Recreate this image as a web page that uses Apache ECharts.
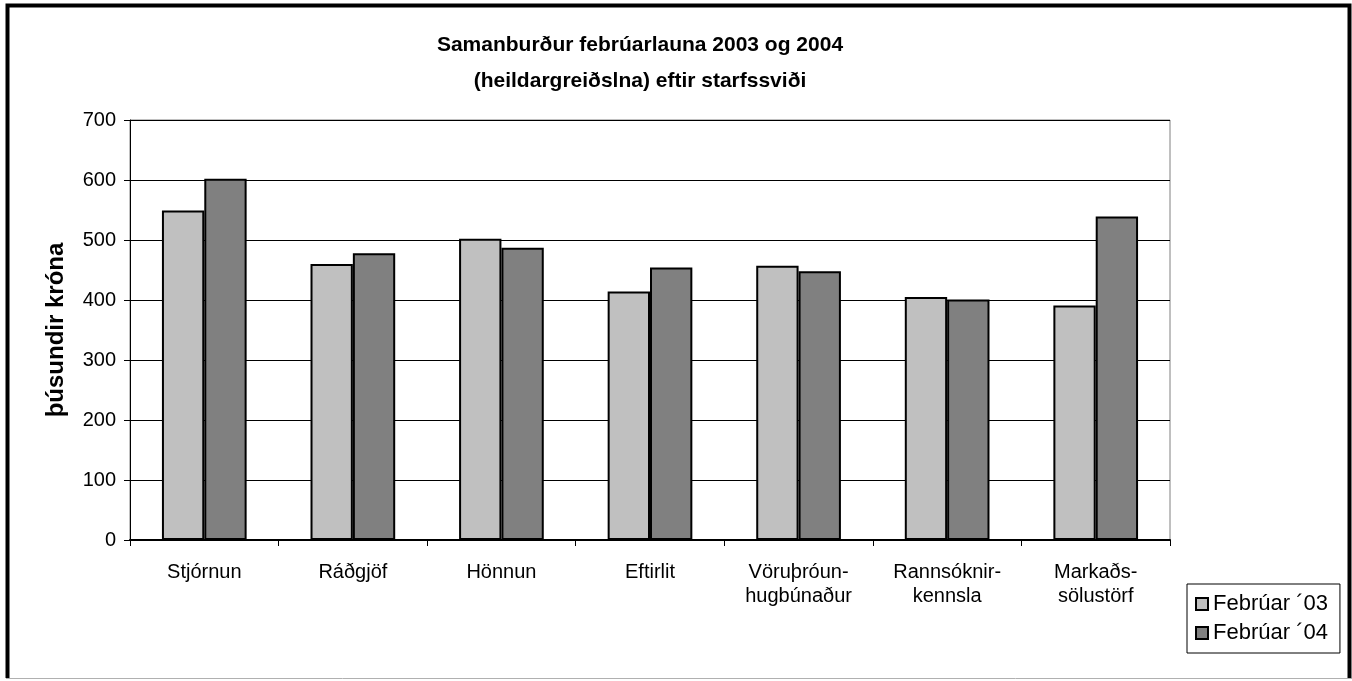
<!DOCTYPE html>
<html>
<head>
<meta charset="utf-8">
<script src="https://cdn.jsdelivr.net/npm/echarts@6/dist/echarts.min.js"></script>
<style>
  html, body { margin: 0; padding: 0; background: #fff; }
  #chart { width: 1352px; height: 681px; }
</style>
</head>
<body>
<div id="chart"></div>
<script>
    // starfssvið
    var categories = ['Stjórnun', 'Ráðgjöf', 'Hönnun', 'Eftirlit', 'Vöruþróun-\nhugbúnaður', 'Rannsóknir-\nkennsla', 'Markaðs-\nsölustörf']
    var feb03 = [549, 460, 502, 414, 457, 405, 391]   // Febrúar ´03
    var feb04 = [602, 478, 487, 454, 448, 401, 539]   // Febrúar ´04
    var yTicks = [0, 100, 200, 300, 400, 500, 600, 700]

    var font = 'Liberation Sans, Arial, sans-serif'

    var option = {
        animation: false,
        backgroundColor: '#fff',
        textStyle: { fontFamily: font },
        title: {
            text: 'Samanburður febrúarlauna 2003 og 2004\n(heildargreiðslna) eftir starfssviði',
            left: 640,
            top: 27,
            padding: 0,
            textAlign: 'center',
            textStyle: { fontFamily: font, fontSize: 21, fontWeight: 'bold', color: '#000', lineHeight: 36 }
        },
        legend: {
            orient: 'vertical',
            left: 1187,
            top: 584,
            padding: [9, 12, 9, 8],
            itemGap: 7,
            itemWidth: 12,
            itemHeight: 12,
            icon: 'rect',
            borderColor: '#000',
            borderWidth: 1,
            textStyle: { fontFamily: font, fontSize: 22, color: '#000', lineHeight: 21 },
            data: ['Febrúar ´03', 'Febrúar ´04']
        },
        grid: { left: 130, right: 182, top: 120, bottom: 141, show: true, borderColor: '#808080', borderWidth: 1 },
        xAxis: {
            type: 'category',
            data: categories,
            axisLine: { lineStyle: { color: '#000', width: 2 } },
            axisTick: { show: true, length: 6, lineStyle: { color: '#000' } },
            axisLabel: { color: '#000', fontSize: 20, margin: 20, lineHeight: 24, interval: 0 }
        },
        yAxis: {
            type: 'value',
            min: yTicks[0],
            max: yTicks[yTicks.length - 1],
            interval: 100,
            name: 'þúsundir króna',
            nameLocation: 'middle',
            nameGap: 62,
            nameTextStyle: { fontFamily: font, fontSize: 24, fontWeight: 'bold', color: '#000' },
            axisLine: { show: true, lineStyle: { color: '#000', width: 1 } },
            axisTick: { show: true, length: 6, lineStyle: { color: '#000' } },
            axisLabel: { color: '#000', fontSize: 20, margin: 14 },
            splitLine: { lineStyle: { color: '#000', width: 1 } }
        },
        series: [{
            name: 'Febrúar ´03',
            type: 'bar',
            data: feb03,
            barGap: '0%',
            barCategoryGap: '43%',
            itemStyle: { color: '#c0c0c0', borderColor: '#000', borderWidth: 2 }
        }, {
            name: 'Febrúar ´04',
            type: 'bar',
            data: feb04,
            itemStyle: { color: '#808080', borderColor: '#000', borderWidth: 2 }
        }],
        graphic: [
            // ytri rammi
            { type: 'polyline', silent: true, shape: { points: [[7.5, 678], [7.5, 5.5], [1349.5, 5.5], [1349.5, 678]] },
              style: { stroke: '#000', lineWidth: 4, fill: null } },
            { type: 'line', silent: true, shape: { x1: 6, y1: 678.5, x2: 1352, y2: 678.5 },
              style: { stroke: '#b0b0b0', lineWidth: 1 } }
        ]
    }

    var chart = echarts.init(document.getElementById('chart'))
    chart.setOption(option)
</script>
</body>
</html>
